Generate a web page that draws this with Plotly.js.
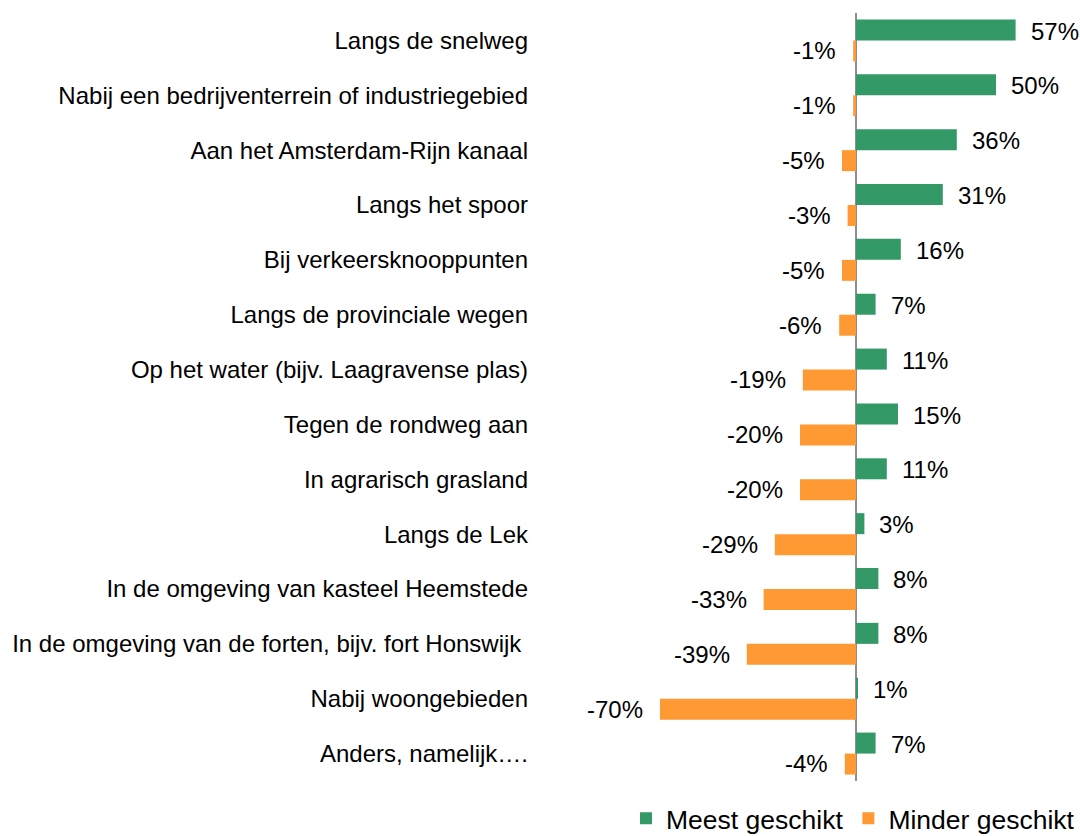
<!DOCTYPE html>
<html>
<head>
<meta charset="utf-8">
<script src="https://cdn.plot.ly/plotly-3.0.1.min.js"></script>
<style>html,body{margin:0;padding:0;background:#fff;}#chart{width:1080px;height:836px;}</style>
</head>
<body>
<div id="chart"></div>
<script>
const categories = [
  "Langs de snelweg",
  "Nabij een bedrijventerrein of industriegebied",
  "Aan het Amsterdam-Rijn kanaal",
  "Langs het spoor",
  "Bij verkeersknooppunten",
  "Langs de provinciale wegen",
  "Op het water (bijv. Laagravense plas)",
  "Tegen de rondweg aan",
  "In agrarisch grasland",
  "Langs de Lek",
  "In de omgeving van kasteel Heemstede",
  "In de omgeving van de forten, bijv. fort Honswijk ",
  "Nabij woongebieden",
  "Anders, namelijk…."
];
const meestGeschikt = [57, 50, 36, 31, 16, 7, 11, 15, 11, 3, 8, 8, 0.6, 7];
const minderGeschikt = [-1, -1, -5, -3, -5, -6, -19, -20, -20, -29, -33, -39, -70, -4];
const seriesNames = ["Meest geschikt", "Minder geschikt"];
const colors = ["#339966", "#FF9933"];

const FONT = "Liberation Sans, Arial, sans-serif";
const fmt = v => Math.round(v) + "%";

const traces = [
  {type: "bar", orientation: "h", name: seriesNames[0], y: categories, x: meestGeschikt,
   marker: {color: colors[0]}, hoverinfo: "x+y"},
  {type: "bar", orientation: "h", name: seriesNames[1], y: categories, x: minderGeschikt,
   marker: {color: colors[1]}, hoverinfo: "x+y"}
];

const off = 0.19;
const annotations = [];
meestGeschikt.forEach((v, i) => annotations.push({
  x: v, y: i - off, xref: "x", yref: "y", text: fmt(v), showarrow: false,
  xanchor: "left", yanchor: "middle", xshift: 13, yshift: -1,
  font: {family: FONT, size: 24, color: "#000"}
}));
minderGeschikt.forEach((v, i) => annotations.push({
  x: v, y: i + off, xref: "x", yref: "y", text: fmt(v), showarrow: false,
  xanchor: "right", yanchor: "middle", xshift: -15, yshift: 0,
  font: {family: FONT, size: 24, color: "#000"}
}));

const layout = {
  width: 1080, height: 836,
  margin: {l: 529, r: 0, t: 12.5, b: 54.5, pad: 0},
  paper_bgcolor: "#fff", plot_bgcolor: "#fff",
  font: {family: FONT, size: 24, color: "#000"},
  barmode: "group", bargap: 0.235, bargroupgap: 0,
  showlegend: true,
  legend: {orientation: "h", xref: "paper", yref: "container", x: 1, xanchor: "right",
           y: 0.021, yanchor: "middle", font: {family: FONT, size: 26.5, color: "#000"},
           traceorder: "normal", bgcolor: "rgba(0,0,0,0)"},
  xaxis: {range: [-116.79, 80], showticklabels: false, showgrid: false, ticks: "",
          zeroline: true, zerolinecolor: "#8c8c8c", zerolinewidth: 2, showline: false, fixedrange: true},
  yaxis: {type: "category", autorange: "reversed", showgrid: false, ticks: "", showline: false,
          zeroline: false, tickfont: {family: FONT, size: 24, color: "#000"}, automargin: false, fixedrange: true},
  annotations: annotations
};

Plotly.newPlot("chart", traces, layout, {displayModeBar: false, responsive: false});
</script>
</body>
</html>
